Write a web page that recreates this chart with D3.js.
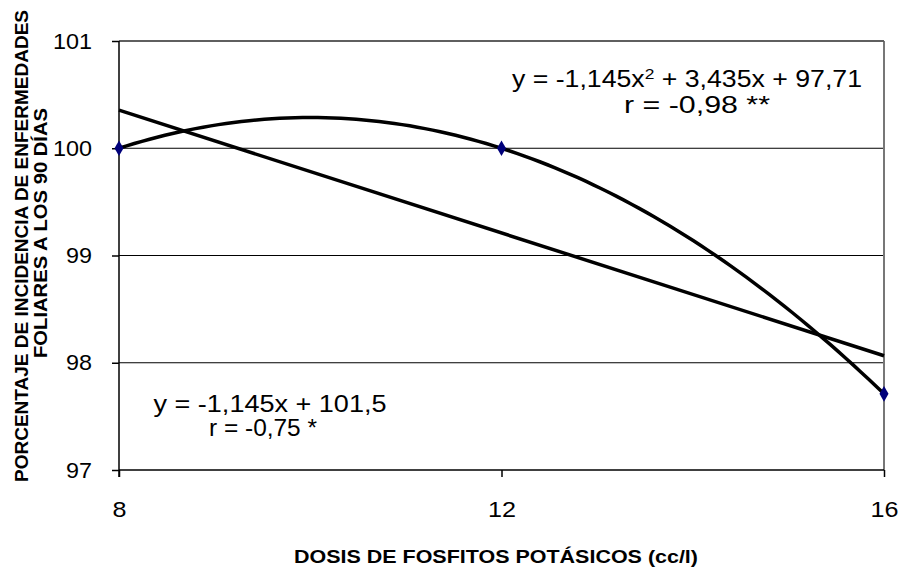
<!DOCTYPE html>
<html>
<head>
<meta charset="utf-8">
<script src="https://cdn.jsdelivr.net/npm/d3@7"></script>
<style>
  body { margin: 0; background: #fff; }
  text { font-family: Arial, "Liberation Sans", sans-serif; }
</style>
</head>
<body>
<script>
  var doses = [8, 12, 16];
  var incidence = [100, 100, 97.71];
  var yTicks = [97, 98, 99, 100, 101];
  // trend coefficients, x = treatment index (1, 2, 3)
  var quadCoef = [-1.145, 3.435, 97.71];
  var linCoef = [-1.145, 101.5];
  var quadLabel = ["y = -1,145x", "2", " + 3,435x + 97,71"];
  var quadR = "r = -0,98 **";
  var linLabel = "y = -1,145x + 101,5";
  var linR = "r = -0,75 *";

  var width = 901, height = 567;
  var margin = {top: 41, right: 17, bottom: 97, left: 119};
  var w = width - margin.left - margin.right;
  var h = height - margin.top - margin.bottom;

  var svg = d3.select("body").append("svg").attr("width", width).attr("height", height);
  var g = svg.append("g").attr("transform", "translate(" + margin.left + "," + margin.top + ")");

  var x = d3.scaleLinear().domain([8, 16]).range([0, w]);
  var y = d3.scaleLinear().domain([97, 101]).range([h, 0]);
  var idx = d3.scaleLinear().domain([1, 3]).range([8, 16]);

  // gridlines
  g.selectAll("line.grid").data(yTicks.slice(1)).enter().append("line")
    .attr("class", "grid")
    .attr("x1", 0).attr("x2", w)
    .attr("y1", function(d) { return y(d); }).attr("y2", function(d) { return y(d); })
    .style("stroke", "#000").style("stroke-width", 1);

  // plot border right/top
  g.append("line").attr("x1", w).attr("x2", w).attr("y1", 0).attr("y2", h)
    .style("stroke", "#777").style("stroke-width", 2);
  g.append("line").attr("x1", 0).attr("x2", w).attr("y1", 0).attr("y2", 0)
    .style("stroke", "#555").style("stroke-width", 1.5);

  var yAxis = g.append("g").call(d3.axisLeft(y).tickValues(yTicks).tickSize(7).tickPadding(20).tickFormat(d3.format("d")));
  var xAxis = g.append("g").attr("transform", "translate(0," + h + ")")
    .call(d3.axisBottom(x).tickValues(doses).tickSize(7).tickPadding(26).tickFormat(d3.format("d")));
  [yAxis, xAxis].forEach(function(a) {
    a.attr("font-size", 22);
    a.select(".domain").style("stroke", "#000").style("stroke-width", 1.5);
    a.selectAll(".tick line").style("stroke", "#000").style("stroke-width", 1.5);
    a.selectAll(".tick text").attr("font-size", 22).style("font-size", "22px").style("fill", "#000")
      .style("font-family", "Arial, 'Liberation Sans', sans-serif");
  });
  yAxis.selectAll(".tick text").attr("textLength", function(d) { return String(d).length * 13; })
    .attr("lengthAdjust", "spacingAndGlyphs");
  xAxis.selectAll(".tick text").attr("dy", null).attr("y", 47)
    .attr("textLength", function(d) { return String(d).length * 14; })
    .attr("lengthAdjust", "spacingAndGlyphs");
  xAxis.select(".domain").attr("d", "M0,0H" + w);
  yAxis.select(".domain").attr("d", "M0," + (h + 7) + "V0");

  // trend lines
  var line = d3.line().x(function(d) { return x(d[0]); }).y(function(d) { return y(d[1]); });
  var quadPts = d3.range(1, 3.0001, 0.02).map(function(t) {
    return [idx(t), quadCoef[0] * t * t + quadCoef[1] * t + quadCoef[2]];
  });
  var linPts = [1, 3].map(function(t) { return [idx(t), linCoef[0] * t + linCoef[1]]; });
  g.append("path").attr("d", line(linPts)).style("fill", "none").style("stroke", "#000").style("stroke-width", 3.5);
  g.append("path").attr("d", line(quadPts)).style("fill", "none").style("stroke", "#000").style("stroke-width", 3.5);

  // markers
  g.selectAll("path.pt").data(doses).enter().append("path")
    .attr("class", "pt")
    .attr("d", d3.symbol().type(d3.symbolDiamond).size(70))
    .attr("transform", function(d, i) { return "translate(" + x(d) + "," + y(incidence[i]) + ")"; })
    .style("fill", "#00007a");

  // equations
  function label(tx, ty, len, size) {
    return svg.append("text").attr("x", tx).attr("y", ty).attr("text-anchor", "middle")
      .attr("textLength", len).attr("lengthAdjust", "spacingAndGlyphs")
      .style("font-size", size + "px");
  }
  var eq = label(687, 87, 350, 23);
  eq.append("tspan").text(quadLabel[0]);
  eq.append("tspan").attr("dy", -8).style("font-size", "15px").text(quadLabel[1]);
  eq.append("tspan").attr("dy", 8).text(quadLabel[2]);
  label(697, 113, 146, 23).text(quadR);
  label(270, 412, 233, 23).text(linLabel);
  label(263, 436, 108, 23).text(linR);

  // axis titles
  svg.append("text").attr("x", 496).attr("y", 563).attr("text-anchor", "middle")
    .attr("textLength", 404).attr("lengthAdjust", "spacingAndGlyphs")
    .style("font-size", "18px").style("font-weight", "bold").text("DOSIS DE FOSFITOS POTÁSICOS (cc/l)");
  svg.append("text").attr("transform", "translate(28,246) rotate(-90)").attr("text-anchor", "middle")
    .attr("textLength", 472).attr("lengthAdjust", "spacingAndGlyphs")
    .style("font-size", "19px").style("font-weight", "bold")
    .text("PORCENTAJE DE INCIDENCIA DE ENFERMEDADES");
  svg.append("text").attr("transform", "translate(47,233) rotate(-90)").attr("text-anchor", "middle")
    .attr("textLength", 250).attr("lengthAdjust", "spacingAndGlyphs")
    .style("font-size", "19px").style("font-weight", "bold")
    .text("FOLIARES A LOS 90 DÍAS");
</script>
</body>
</html>
